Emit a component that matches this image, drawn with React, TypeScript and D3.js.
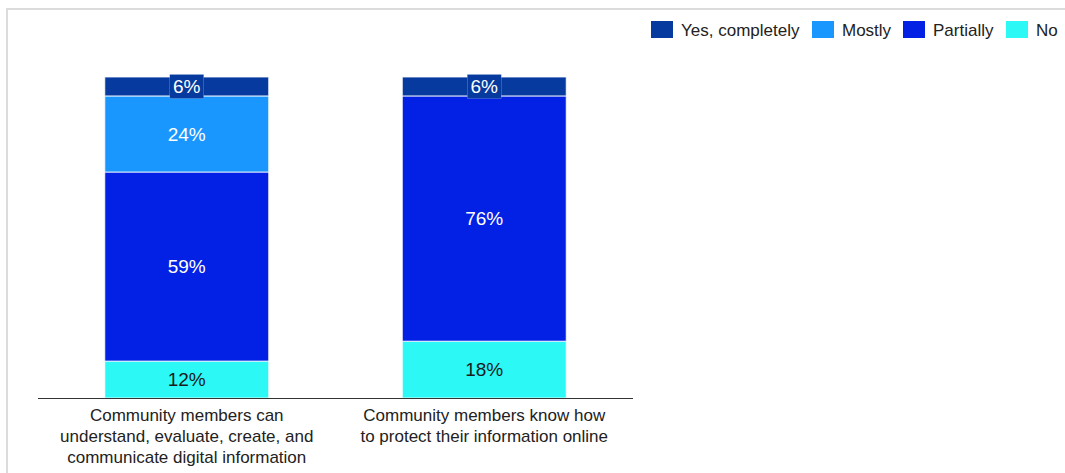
import React from "react";
import * as d3 from "d3";

const categories = [
  ["Community members can", "understand, evaluate, create, and", "communicate digital information"],
  ["Community members know how", "to protect their information online"],
];
const seriesNames = ["No", "Partially", "Mostly", "Yes, completely"];
const noValues = [11.5, 17.7];
const partiallyValues = [58.9, 76.4];
const mostlyValues = [23.7, 0];
const yesValues = [5.9, 5.9];
const labelValues = [
  [12, 18],
  [59, 76],
  [24, null],
  [6, 6],
];
const legendOrder = ["Yes, completely", "Mostly", "Partially", "No"];

const colors: Record<string, string> = {
  "Yes, completely": "#073a9e",
  Mostly: "#1a97ff",
  Partially: "#0321e4",
  No: "#2cf8f6",
};
const textColors: Record<string, string> = {
  "Yes, completely": "#ffffff",
  Mostly: "#ffffff",
  Partially: "#ffffff",
  No: "#1a1a1a",
};

export default function App() {
  const W = 1065;
  const H = 473;
  const font = "'Liberation Sans', Arial, sans-serif";
  const x = d3
    .scaleBand<number>()
    .domain([0, 1])
    .range([38, 633])
    .paddingInner(0.449)
    .paddingOuter(0.2245);
  const y = d3.scaleLinear().domain([0, 100]).range([398, 77]);

  const rows = [0, 1].map((i) => ({
    idx: i,
    No: noValues[i],
    Partially: partiallyValues[i],
    Mostly: mostlyValues[i],
    "Yes, completely": yesValues[i],
  }));
  const stack = d3.stack<any>().keys(seriesNames)(rows);

  const legendX = [651, 812, 903, 1006];

  return (
    <svg
      width={W}
      height={H}
      style={{ position: "absolute", left: 0, top: 0, background: "#fff" }}
      fontFamily={font}
    >
      <line x1={6} x2={W} y1={9} y2={9} stroke="#dcdcdc" strokeWidth={2} />
      <line x1={7} x2={7} y1={8} y2={H} stroke="#dcdcdc" strokeWidth={2} />

      {stack.map((layer) => {
        const key = layer.key;
        return (
          <g key={key}>
            {layer.map((d, i) => {
              if (d[1] - d[0] <= 0) return null;
              const x0 = x(i)!;
              const bw = x.bandwidth();
              const yTop = y(d[1]);
              const yBot = y(d[0]);
              return (
                <rect
                  key={i}
                  x={x0}
                  y={yTop}
                  width={bw}
                  height={yBot - yTop}
                  fill={colors[key]}
                  stroke="#ffffff"
                  strokeWidth={1}
                  strokeOpacity={0.8}
                />
              );
            })}
          </g>
        );
      })}

      {stack.map((layer, li) => {
        const key = layer.key;
        return (
          <g key={key + "lbl"}>
            {layer.map((d, i) => {
              const v = labelValues[li][i];
              if (v == null) return null;
              const cx = x(i)! + x.bandwidth() / 2;
              const cy = (y(d[0]) + y(d[1])) / 2;
              const isTop = key === "Yes, completely";
              return (
                <g key={i}>
                  {isTop && (
                    <rect
                      x={cx - 17}
                      y={cy - 12}
                      width={34}
                      height={24}
                      fill={colors[key]}
                      stroke="#c8d4ee"
                      strokeWidth={0.5}
                      strokeOpacity={0.5}
                    />
                  )}
                  <text
                    x={cx}
                    y={cy}
                    dy="0.36em"
                    textAnchor="middle"
                    fontSize={19}
                    fill={textColors[key]}
                  >
                    {v}%
                  </text>
                </g>
              );
            })}
          </g>
        );
      })}

      <line x1={38} x2={633} y1={398.5} y2={398.5} stroke="#333" strokeWidth={1} />

      {categories.map((lines, i) => {
        const cx = x(i)! + x.bandwidth() / 2;
        return (
          <text key={i} textAnchor="middle" fontSize={17} fill="#222">
            {lines.map((ln, j) => (
              <tspan key={j} x={cx} y={421 + j * 21}>
                {ln}
              </tspan>
            ))}
          </text>
        );
      })}

      {legendOrder.map((name, i) => (
        <g key={name} transform={`translate(${legendX[i]},21)`}>
          <rect width={22} height={17} fill={colors[name]} />
          <text x={30} y={15} fontSize={17} fill="#222">
            {name}
          </text>
        </g>
      ))}
    </svg>
  );
}
